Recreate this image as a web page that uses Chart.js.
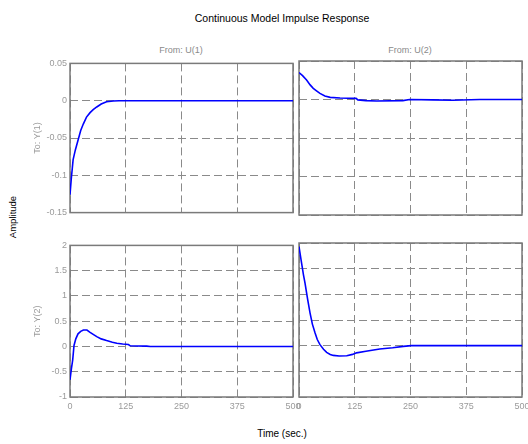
<!DOCTYPE html>
<html><head><meta charset="utf-8">
<script src="https://cdn.jsdelivr.net/npm/chart.js@4"></script>
<style>
html,body{margin:0;padding:0;width:528px;height:444px;overflow:hidden;background:#fff;font-family:"Liberation Sans",Arial,sans-serif;}
canvas{position:absolute;}
.t{position:absolute;white-space:nowrap;line-height:1;transform:translate(-50%,-50%);}
.r{transform:translate(-50%,-50%) rotate(-90deg);}
</style></head><body>
<div class="t" id="mainTitle" style="left:282px;top:17.5px;font-size:10.5px;color:#000"></div>
<div class="t" id="in1" style="left:181px;top:49.5px;font-size:9px;color:#8a8a8a"></div>
<div class="t" id="in2" style="left:410px;top:49.5px;font-size:9px;color:#8a8a8a"></div>
<div class="t r" id="ylab" style="left:13px;top:217px;font-size:9.5px;color:#000"></div>
<div class="t" id="xlab" style="left:282px;top:434px;font-size:10px;color:#000"></div>
<canvas id="c11" width="310" height="166" style="left:0;top:55px"></canvas>
<canvas id="c12" width="245" height="166" style="left:290px;top:55px"></canvas>
<canvas id="c21" width="310" height="180" style="left:0;top:237px"></canvas>
<canvas id="c22" width="245" height="180" style="left:290px;top:237px"></canvas>
<script>
// ---- text ----
const chartTitle = 'Continuous Model Impulse Response';
const inputNames = ['From: U(1)', 'From: U(2)'];
const outputNames = ['To: Y(1)', 'To: Y(2)'];
const yAxisLabel = 'Amplitude';
const xAxisLabel = 'Time (sec.)';

// ---- tick labels ----
const timeTicks = [0, 125, 250, 375, 500];
const ampTicksY1 = [-0.15, -0.1, -0.05, 0, 0.05];
const ampTicksY2 = [-1, -0.5, 0, 0.5, 1, 1.5, 2];

// ---- series: U(1) -> Y(1) ----
const t11 = [0, 3, 7, 12, 18, 24, 30, 37, 45, 52, 60, 70, 82, 97, 110, 500];
const y11 = [-0.126, -0.104, -0.079, -0.066, -0.053, -0.040, -0.031, -0.022, -0.016, -0.012, -0.0084, -0.0045, -0.0015, -0.0003, 0, 0];
// ---- series: U(2) -> Y(1) ----
const t12 = [0, 8, 17, 25, 32, 40, 47, 58, 70, 92, 128, 132, 150, 174, 233, 248, 300, 345, 405, 500];
const y12 = [0.035, 0.031, 0.0253, 0.019, 0.0145, 0.011, 0.008, 0.0045, 0.0028, 0.002, 0.0015, -0.0005, -0.0015, -0.002, -0.0015, 0, -0.0005, -0.001, 0, 0];
// ---- series: U(1) -> Y(2) ----
const t21 = [0, 3, 6, 9, 13, 18, 24, 30, 38, 45, 52, 60, 70, 82, 95, 105, 118, 131, 135, 150, 172, 180, 500];
const y21 = [-0.66, -0.45, -0.27, 0.02, 0.15, 0.25, 0.30, 0.325, 0.325, 0.28, 0.24, 0.195, 0.15, 0.117, 0.085, 0.065, 0.05, 0.039, 0.013, 0.01, 0.006, 0, 0];
// ---- series: U(2) -> Y(2) ----
const t22 = [0, 5, 10, 13.5, 19, 24.7, 30, 35.9, 41, 47, 55, 62, 70, 77, 90, 107, 120, 129, 150, 181, 210, 234, 252, 500];
const y22 = [1.93, 1.65, 1.38, 1.22, 0.92, 0.64, 0.42, 0.25, 0.12, 0.02, -0.07, -0.13, -0.17, -0.19, -0.2, -0.195, -0.17, -0.14, -0.11, -0.065, -0.04, -0.013, 0, 0];

document.getElementById('mainTitle').textContent = chartTitle;
document.getElementById('in1').textContent = inputNames[0];
document.getElementById('in2').textContent = inputNames[1];
document.getElementById('ylab').textContent = yAxisLabel;
document.getElementById('xlab').textContent = xAxisLabel;

const FONT = '"Liberation Sans", Arial, sans-serif';
const TICK_COLOR = '#9a9a9a';
const GRID_COLOR = '#8a8a8a';

const boxPlugin = {
  id: 'box',
  beforeDatasetsDraw(chart) {
    const {ctx, chartArea: a} = chart;
    ctx.save();
    ctx.strokeStyle = '#7a7a7a';
    ctx.lineWidth = 1.5;
    ctx.strokeRect(a.left, a.top, a.right - a.left, a.bottom - a.top);
    ctx.restore();
  }
};

function makeChart(id, t, y, yTicks, o) {
  const pts = t.map((v, i) => ({x: v, y: y[i]}));
  return new Chart(document.getElementById(id), {
    type: 'line',
    data: {datasets: [{data: pts, borderColor: '#0000ff', borderWidth: 1.6, pointRadius: 0, tension: 0, fill: false}]},
    plugins: [boxPlugin],
    options: {
      responsive: false, animation: false, devicePixelRatio: 1,
      layout: {padding: o.pad},
      plugins: {legend: {display: false}, tooltip: {enabled: false}},
      scales: {
        x: {
          type: 'linear', min: timeTicks[0], max: timeTicks[timeTicks.length - 1],
          afterBuildTicks: ax => { ax.ticks = timeTicks.map(v => ({value: v})); },
          afterFit: ax => { ax.height = o.xh; },
          grid: {color: GRID_COLOR, lineWidth: 1, drawTicks: false},
          border: {display: false, dash: [8, 4]},
          ticks: {display: o.showX, color: TICK_COLOR, padding: 4, maxRotation: 0, autoSkip: false,
                  font: {family: FONT, size: 9}, callback: v => String(v)}
        },
        y: {
          type: 'linear', min: yTicks[0], max: yTicks[yTicks.length - 1],
          afterBuildTicks: ax => { ax.ticks = yTicks.map(v => ({value: v})); },
          afterFit: ax => { ax.width = o.yw; },
          grid: {color: GRID_COLOR, lineWidth: 1, drawTicks: false},
          border: {display: false, dash: [8, 4]},
          ticks: {display: o.showY, color: TICK_COLOR, padding: 3, autoSkip: false,
                  font: {family: FONT, size: 9}, callback: v => String(v)},
          title: {display: !!o.ytitle, text: o.ytitle || '', color: '#9a9a9a',
                  font: {family: FONT, size: 9}, padding: {top: 32.6, bottom: 0}}
        }
      }
    }
  });
}

makeChart('c11', t11, y11, ampTicksY1, {pad: {top: 6, bottom: 6, left: 0, right: 17}, yw: 70, xh: 0, showX: false, showY: true, ytitle: outputNames[0]});
makeChart('c12', t12, y12, ampTicksY1, {pad: {top: 6, bottom: 6, left: 0, right: 13}, yw: 9, xh: 0, showX: false, showY: false});
makeChart('c21', t21, y21, ampTicksY2, {pad: {top: 6, bottom: 0, left: 0, right: 17}, yw: 70, xh: 20, showX: true, showY: true, ytitle: outputNames[1]});
makeChart('c22', t22, y22, ampTicksY2, {pad: {top: 6, bottom: 0, left: 0, right: 13}, yw: 9, xh: 20, showX: true, showY: false});
</script>
</body></html>
